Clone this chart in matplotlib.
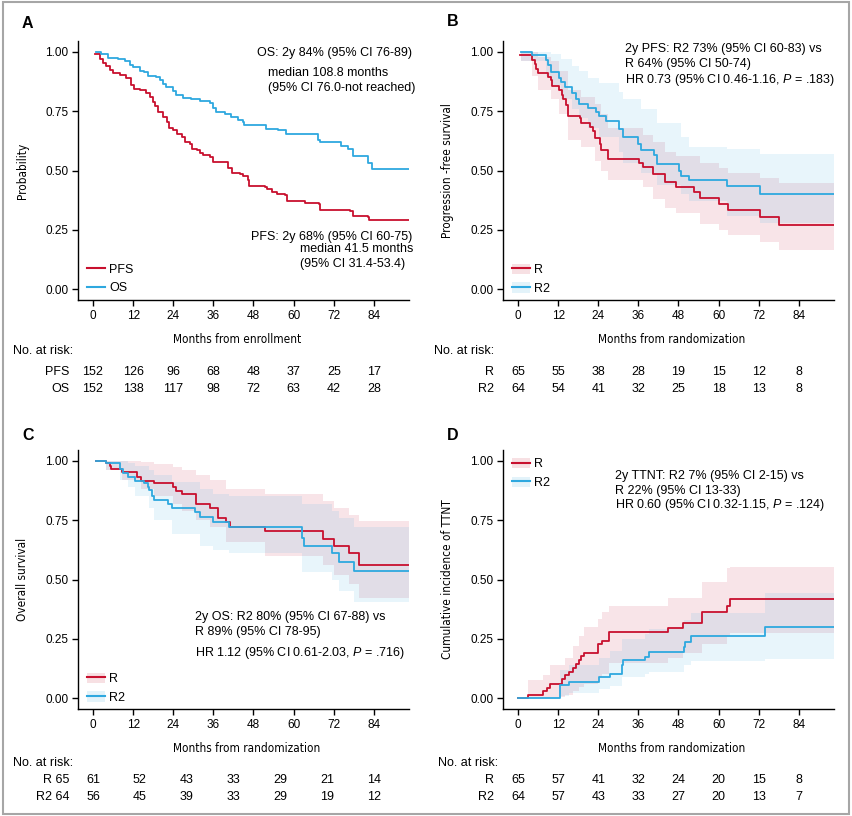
import os
import matplotlib
matplotlib.use("Agg")
import matplotlib.pyplot as plt
import matplotlib.transforms as mtransforms
from matplotlib import font_manager
from matplotlib.lines import Line2D
from matplotlib.patches import Patch, Rectangle
from matplotlib.legend_handler import HandlerTuple

# ---------------- data ----------------
# A: whole cohort
a_pfs_t = [0.5, 2.0, 3.0, 4.0, 5.0, 6.0, 8.0, 10.0, 11.5, 12.2, 14, 16, 17, 18, 18.5, 19.5, 21, 22, 22.8, 24,
           25, 26.5, 27.5, 29, 29.5, 31, 32, 33, 35, 36, 40.5, 41.5, 44, 45, 46.5, 46.8, 51.5, 52, 53.5, 55,
           57.5, 58, 63.5, 67.5, 68, 77, 77.7, 82.3, 82.5, 94.5]
a_pfs_s = [0.993, 0.97, 0.955, 0.94, 0.925, 0.91, 0.903, 0.89, 0.86, 0.845, 0.838, 0.825, 0.81, 0.79, 0.77,
           0.745, 0.725, 0.705, 0.68, 0.67, 0.655, 0.64, 0.62, 0.61, 0.59, 0.585, 0.575, 0.565, 0.555, 0.535,
           0.51, 0.49, 0.485, 0.475, 0.46, 0.435, 0.43, 0.42, 0.41, 0.40, 0.395, 0.37, 0.365, 0.36, 0.335,
           0.33, 0.31, 0.305, 0.29, 0.29]
a_os_t = [1, 2.5, 4.5, 7.5, 9.5, 11, 12, 14, 15.4, 16.4, 18.9, 19.9, 20.9, 21.9, 23.9, 24.9, 26.9, 29.4, 31.9,
          34.9, 35.9, 36.9, 39.4, 41.4, 43.3, 44.8, 45.3, 51.8, 55.3, 57.8, 67.3, 67.8, 74.2, 76.2, 77.7,
          82.2, 83.5, 94.5]
a_os_s = [1.0, 0.99, 0.975, 0.97, 0.96, 0.945, 0.935, 0.92, 0.915, 0.90, 0.895, 0.88, 0.865, 0.85, 0.835,
          0.82, 0.805, 0.80, 0.795, 0.785, 0.765, 0.745, 0.74, 0.725, 0.715, 0.705, 0.69, 0.675, 0.67, 0.655,
          0.63, 0.62, 0.605, 0.59, 0.56, 0.53, 0.505, 0.505]

# B: PFS by arm
b_r_t = [0.5, 4.3, 5, 5.5, 6, 9, 10, 10.2, 12.4, 13.2, 13.6, 14.4, 14.9, 18.6, 18.9, 21.6, 22.4, 22.9, 24.6,
         24.9, 26.8, 36.3, 37.3, 40.3, 44, 47.2, 52.7, 54.4, 60.1, 62.9, 72.4, 78.2, 94.4]
b_r_s = [0.985, 0.965, 0.95, 0.93, 0.91, 0.895, 0.88, 0.855, 0.84, 0.82, 0.80, 0.775, 0.73, 0.72, 0.70, 0.685,
         0.665, 0.635, 0.613, 0.588, 0.55, 0.53, 0.515, 0.487, 0.452, 0.43, 0.41, 0.385, 0.357, 0.332, 0.304,
         0.27, 0.27]
b_r2_t = [1, 4.3, 8.3, 8.9, 9.9, 12.2, 12.9, 14.2, 16.2, 17.4, 18.2, 20.9, 23.4, 24.2, 26.3, 30.3, 31.3, 35.8,
          36.8, 40.8, 41.7, 48.2, 48.7, 51.2, 62.6, 72.4, 94.4]
b_r2_s = [1.0, 0.985, 0.965, 0.945, 0.915, 0.89, 0.875, 0.85, 0.825, 0.80, 0.78, 0.765, 0.745, 0.73, 0.71,
          0.677, 0.64, 0.61, 0.585, 0.565, 0.526, 0.497, 0.477, 0.458, 0.433, 0.40, 0.40]
b_r_ci_t = [1, 4.3, 6, 10, 12.4, 14.9, 18.9, 22.9, 24.9, 26.8, 37.3, 40.3, 44, 47.2, 54.4, 60.1, 62.9, 72.4,
            78.2, 94.4]
b_r_lo = [0.96, 0.90, 0.84, 0.80, 0.74, 0.63, 0.60, 0.54, 0.50, 0.46, 0.43, 0.38, 0.34, 0.32, 0.275, 0.248,
          0.228, 0.20, 0.165, 0.165]
b_r_hi = [1.0, 1.0, 0.98, 0.96, 0.92, 0.84, 0.81, 0.78, 0.74, 0.68, 0.65, 0.62, 0.58, 0.56, 0.53, 0.51, 0.49,
          0.47, 0.447, 0.447]
b_r2_ci_t = [1, 8.3, 9.9, 12.9, 16.2, 18.2, 20.9, 24.2, 30.3, 31.3, 36.8, 41.7, 48.7, 51.2, 62.6, 72.4, 94.4]
b_r2_lo = [0.96, 0.90, 0.86, 0.80, 0.76, 0.72, 0.68, 0.64, 0.58, 0.53, 0.49, 0.44, 0.40, 0.37, 0.31, 0.28, 0.28]
b_r2_hi = [1.0, 1.0, 0.99, 0.97, 0.94, 0.92, 0.89, 0.87, 0.83, 0.80, 0.76, 0.70, 0.64, 0.60, 0.59, 0.57, 0.57]

# C: OS by arm
c_r_t = [1, 3.8, 5.2, 5.5, 8.8, 13.2, 14.4, 18.1, 23.9, 24.9, 26.7, 30.7, 35.1, 37.4, 39.9, 40.9, 51.3, 68.8,
         72.2, 76.7, 79.5, 94.5]
c_r_s = [1.0, 0.99, 0.98, 0.968, 0.955, 0.934, 0.915, 0.905, 0.89, 0.875, 0.86, 0.82, 0.80, 0.758, 0.744,
         0.723, 0.705, 0.67, 0.64, 0.61, 0.56, 0.56]
c_r2_t = [1, 3.8, 8.2, 9, 10.5, 12.5, 15.4, 16.4, 16.9, 17.7, 18.2, 22.4, 23.7, 30.4, 31.9, 35.9, 40.7, 62.6,
          63, 71.5, 73.7, 78, 94.5]
c_r2_s = [1.0, 0.99, 0.965, 0.948, 0.934, 0.917, 0.906, 0.889, 0.877, 0.852, 0.835, 0.818, 0.80, 0.786, 0.765,
          0.744, 0.723, 0.673, 0.641, 0.613, 0.575, 0.537, 0.537]
c_r_ci_t = [1, 3.8, 8.8, 14.4, 18.1, 23.9, 26.7, 30.7, 35.1, 39.9, 51.3, 68.8, 72.2, 76.7, 79.5, 94.5]
c_r_lo = [1.0, 0.96, 0.92, 0.88, 0.85, 0.82, 0.79, 0.75, 0.72, 0.66, 0.60, 0.56, 0.52, 0.48, 0.42, 0.42]
c_r_hi = [1.0, 1.0, 1.0, 0.995, 0.985, 0.975, 0.96, 0.94, 0.92, 0.88, 0.86, 0.83, 0.80, 0.77, 0.745, 0.745]
c_r2_ci_t = [1, 3.8, 8.2, 10.5, 12.5, 16.9, 18.2, 23.7, 31.9, 35.9, 40.7, 62.6, 71.5, 73.7, 78, 94.5]
c_r2_lo = [1.0, 0.96, 0.92, 0.89, 0.85, 0.80, 0.75, 0.69, 0.64, 0.625, 0.61, 0.53, 0.50, 0.45, 0.405, 0.405]
c_r2_hi = [1.0, 1.0, 1.0, 0.99, 0.98, 0.96, 0.94, 0.91, 0.88, 0.86, 0.85, 0.82, 0.79, 0.76, 0.72, 0.72]

# D: cumulative incidence of TTNT
d_r_t = [0, 3, 7.5, 8.6, 9.6, 13.2, 14.2, 15.4, 16.6, 17.4, 18.2, 18.9, 19.6, 23.9, 25.1, 27.3, 45, 49.4, 55,
         62.6, 63.3, 94.4]
d_r_s = [0, 0.014, 0.028, 0.042, 0.06, 0.082, 0.096, 0.11, 0.128, 0.145, 0.16, 0.176, 0.19, 0.227, 0.24,
         0.279, 0.297, 0.318, 0.363, 0.39, 0.417, 0.417]
d_r2_t = [0, 12.7, 15.4, 24.2, 27.6, 31.1, 31.5, 38.1, 39.1, 49.5, 50, 51.7, 73.9, 94.4]
d_r2_s = [0, 0.054, 0.068, 0.089, 0.103, 0.138, 0.16, 0.173, 0.194, 0.215, 0.237, 0.262, 0.30, 0.30]
d_r_ci_t = [3, 7.5, 9.6, 14.2, 16.6, 18.2, 19.6, 23.9, 25.1, 27.3, 45, 49.4, 55, 62.6, 63.3, 94.4]
d_r_lo = [0.0, 0.0, 0.005, 0.015, 0.03, 0.045, 0.06, 0.09, 0.10, 0.15, 0.17, 0.19, 0.23, 0.26, 0.275, 0.275]
d_r_hi = [0.075, 0.096, 0.138, 0.17, 0.22, 0.26, 0.30, 0.335, 0.363, 0.39, 0.42, 0.42, 0.49, 0.55, 0.553, 0.553]
d_r2_ci_t = [12.7, 15.4, 24.2, 27.6, 31.1, 38.1, 39.1, 49.5, 51.7, 73.9, 94.4]
d_r2_lo = [0.01, 0.02, 0.04, 0.05, 0.09, 0.10, 0.11, 0.14, 0.155, 0.166, 0.166]
d_r2_hi = [0.12, 0.14, 0.17, 0.20, 0.25, 0.27, 0.29, 0.33, 0.36, 0.444, 0.444]

# numbers at risk
risk_t = [0, 12, 24, 36, 48, 60, 72, 84]
risk_t_c = [0, 14, 28, 42, 56, 70, 84]
a_risk_pfs = [152, 126, 96, 68, 48, 37, 25, 17]
a_risk_os = [152, 138, 117, 98, 72, 63, 42, 28]
b_risk_r = [65, 55, 38, 28, 19, 15, 12, 8]
b_risk_r2 = [64, 54, 41, 32, 25, 18, 13, 8]
c_risk_r = [61, 52, 43, 33, 29, 21, 14]
c_risk_r2 = [56, 45, 39, 33, 29, 19, 12]
d_risk_r = [65, 57, 41, 32, 24, 20, 15, 8]
d_risk_r2 = [64, 57, 43, 33, 27, 20, 13, 7]

# ---------------- style ----------------
RED = "#C8102E"
BLUE = "#2EA8DF"
W, H = 852, 816
names = {f.name for f in font_manager.fontManager.ttflist}
SANS = "Liberation Sans" if "Liberation Sans" in names else "DejaVu Sans"

# condensed face for the axis titles
narrow_file = None
for want in ("LiberationSansNarrow-Regular.ttf", "DejaVuSansCondensed.ttf"):
    for f in font_manager.fontManager.ttflist:
        if os.path.basename(f.fname) == want:
            narrow_file = f.fname
            break
    if narrow_file:
        break
if narrow_file:
    NARROW = font_manager.FontProperties(fname=narrow_file, size=8.5)
else:
    NARROW = font_manager.FontProperties(family=SANS, stretch="condensed", size=8.5)

plt.rcParams["font.family"] = [SANS, "DejaVu Sans"]
plt.rcParams["font.size"] = 9
plt.rcParams["mathtext.fontset"] = "custom"
plt.rcParams["mathtext.it"] = SANS + ":italic"
plt.rcParams["mathtext.rm"] = SANS

fig = plt.figure(figsize=(W / 100, H / 100), dpi=100)
fig.patches.append(Rectangle((0.003, 0.003), 0.994, 0.994, transform=fig.transFigure,
                             fill=False, edgecolor="#a6a6a6", lw=1.5))


def put(px, py, s, **kw):
    kw.setdefault("va", "center")
    kw.setdefault("fontsize", 9)
    return fig.text(px / W, 1 - py / H, s, **kw)


def make_ax(left_px, top_px):
    ax = fig.add_axes([left_px / W, 1 - (top_px + 259) / H, 331 / W, 259 / H])
    ax.set_xlim(-4.48, 94.5)
    ax.set_ylim(-0.046, 1.046)
    ax.set_xticks(risk_t)
    ax.set_yticks([0, 0.25, 0.5, 0.75, 1.0])
    ax.set_yticklabels(["0.00", "0.25", "0.50", "0.75", "1.00"])
    for s in ("top", "right"):
        ax.spines[s].set_visible(False)
    for s in ("left", "bottom"):
        ax.spines[s].set_linewidth(1.0)
    ax.tick_params(direction="out", length=4, width=1.0, labelsize=8.5, pad=3)
    return ax


def band(ax, t, lo, hi, color):
    ax.fill_between(t, lo, hi, step="post", color=color, alpha=0.11, lw=0)


def curve(ax, t, s, color):
    ax.step(t, s, where="post", color=color, lw=1.3)


def labels(ax, xl, yl, xlx):
    ax.set_xlabel(xl, fontproperties=NARROW)
    ax.set_ylabel(yl, fontproperties=NARROW)
    ax.xaxis.set_label_coords(xlx, -0.127)
    ax.yaxis.set_label_coords(-0.147, 0.5)


def arm_legend(ax, anchor):
    h = [(Patch(facecolor=RED, alpha=0.13, lw=0), Line2D([], [], color=RED, lw=1.5)),
         (Patch(facecolor=BLUE, alpha=0.13, lw=0), Line2D([], [], color=BLUE, lw=1.5))]
    ax.legend(h, ["R", "R2"], handler_map={tuple: HandlerTuple(ndivide=1)}, loc="upper left",
              bbox_to_anchor=anchor, frameon=False, fontsize=9, handlelength=1.45, handleheight=0.9,
              handletextpad=0.35, labelspacing=0.5, borderpad=0, borderaxespad=0)


def risk_rows(ax, times, rows, names_, ys, label_x):
    tr = mtransforms.blended_transform_factory(ax.transData, fig.transFigure)
    for vals, nm, py in zip(rows, names_, ys):
        put(label_x, py, nm, ha="right")
        for t, v in zip(times, vals):
            ax.text(t, 1 - py / H, str(v), transform=tr, ha="center", va="center", fontsize=9)


# ---------------- panel A ----------------
axA = make_ax(78, 41)
curve(axA, a_pfs_t, a_pfs_s, RED)
curve(axA, a_os_t, a_os_s, BLUE)
labels(axA, "Months from enrollment", "Probability", 0.48)
axA.legend([Line2D([], [], color=RED, lw=1.5), Line2D([], [], color=BLUE, lw=1.5)], ["PFS", "OS"],
           loc="upper left", bbox_to_anchor=(0.027, 0.14), frameon=False, fontsize=9, handlelength=1.45,
           handletextpad=0.35, labelspacing=0.5, borderpad=0, borderaxespad=0)
put(412, 53, "OS: 2y 84% (95% CI 76-89)", ha="right")
put(268, 73, "median 108.8 months")
put(268, 88, "(95% CI 76.0-not reached)")
put(412, 237, "PFS: 2y 68% (95% CI 60-75)", ha="right")
put(300, 249, "median 41.5 months")
put(300, 264, "(95% CI 31.4-53.4)")
put(13, 351, "No. at risk:")
risk_rows(axA, risk_t, [a_risk_pfs, a_risk_os], ["PFS", "OS"], [372, 389], 69)
put(27, 23, "A", ha="center", fontsize=11.5, fontweight="bold")

# ---------------- panel B ----------------
axB = make_ax(503, 41)
band(axB, b_r_ci_t, b_r_lo, b_r_hi, RED)
band(axB, b_r2_ci_t, b_r2_lo, b_r2_hi, BLUE)
curve(axB, b_r_t, b_r_s, RED)
curve(axB, b_r2_t, b_r2_s, BLUE)
labels(axB, "Months from randomization", "Progression -free survival", 0.508)
arm_legend(axB, (0.027, 0.14))
put(625, 49, "2y PFS: R2 73% (95% CI 60-83) vs")
put(625, 64, "R 64% (95% CI 50-74)")
put(625, 80, "HR 0.73 (95% CI 0.46-1.16, $\\mathit{P}$ = .183)")
put(434, 351, "No. at risk:")
risk_rows(axB, risk_t, [b_risk_r, b_risk_r2], ["R", "R2"], [372, 389], 494)
put(453, 22, "B", ha="center", fontsize=11.5, fontweight="bold")

# ---------------- panel C ----------------
axC = make_ax(78, 450)
band(axC, c_r_ci_t, c_r_lo, c_r_hi, RED)
band(axC, c_r2_ci_t, c_r2_lo, c_r2_hi, BLUE)
curve(axC, c_r_t, c_r_s, RED)
curve(axC, c_r2_t, c_r2_s, BLUE)
labels(axC, "Months from randomization", "Overall survival", 0.508)
arm_legend(axC, (0.027, 0.14))
put(195, 617, "2y OS: R2 80% (95% CI 67-88) vs")
put(195, 632, "R 89% (95% CI 78-95)")
put(195, 653, "HR 1.12 (95% CI 0.61-2.03, $\\mathit{P}$ = .716)")
put(13, 763, "No. at risk:")
risk_rows(axC, risk_t_c, [c_risk_r, c_risk_r2], ["R 65", "R2 64"], [780, 797], 69)
put(28, 435, "C", ha="center", fontsize=11.5, fontweight="bold")

# ---------------- panel D ----------------
axD = make_ax(503, 450)
band(axD, d_r_ci_t, d_r_lo, d_r_hi, RED)
band(axD, d_r2_ci_t, d_r2_lo, d_r2_hi, BLUE)
curve(axD, d_r_t, d_r_s, RED)
curve(axD, d_r2_t, d_r2_s, BLUE)
labels(axD, "Months from randomization", "Cumulative incidence of TTNT", 0.508)
arm_legend(axD, (0.027, 0.97))
put(615, 476, "2y TTNT: R2 7% (95% CI 2-15) vs")
put(615, 491, "R 22% (95% CI 13-33)")
put(615, 505, "HR 0.60 (95% CI 0.32-1.15, $\\mathit{P}$ = .124)")
put(438, 763, "No. at risk:")
risk_rows(axD, risk_t, [d_risk_r, d_risk_r2], ["R", "R2"], [780, 797], 494)
put(453, 435, "D", ha="center", fontsize=11.5, fontweight="bold")

fig.savefig("out.png", dpi=100)
